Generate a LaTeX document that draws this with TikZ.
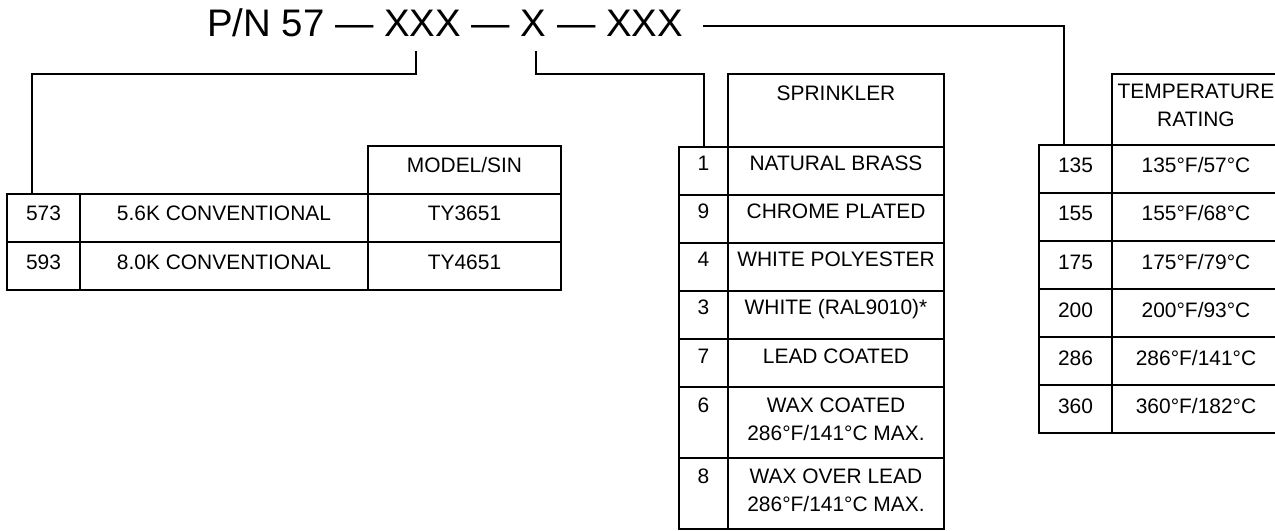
\documentclass[tikz,border=0pt]{standalone}
\usepackage{fontspec}
\setmainfont{Liberation Sans}
\newcommand{\titlefont}{\fontsize{28.8}{34}\selectfont}
\newcommand{\tabfont}{\fontsize{15.7}{21}\selectfont}
\newcommand{\twolines}[2]{\begin{tabular}[t]{@{}c@{}}#1\\#2\end{tabular}}
\begin{document}
\begin{tikzpicture}[x=0.75pt,y=0.75pt,yscale=-1,xscale=1,
  cell/.style={draw, line width=2pt, inner xsep=0pt, inner ysep=0pt, outer sep=0pt, anchor=north west, font=\tabfont},
  lrow/.style={text height=20.25pt, text depth=15.75pt},
  srow/.style={text height=18pt, text depth=18pt},
  stall/.style={text height=18.75pt, text depth=34.5pt},
  trow/.style={text height=21pt, text depth=15pt},
  link/.style={line width=2pt}]
\useasboundingbox (0,0) rectangle (1275,531);
% Part number
\node[anchor=base west, inner sep=0pt, font=\titlefont] (pn) at (207,37) {P/N 57 — XXX — X — XXX};
\coordinate (tapA) at (416,51);
\coordinate (tapB) at (536,51);
\coordinate (tapC) at (703,26);

% Model table
\node[cell, lrow, minimum width=54.75pt] (n573) at (7,194) {573};
\node[cell, lrow, minimum width=216pt] (d573) at (n573.north east) {5.6K CONVENTIONAL};
\node[cell, lrow, minimum width=144.75pt] (m573) at (d573.north east) {TY3651};
\node[cell, lrow, minimum width=144.75pt, anchor=south west] (mhead) at (m573.north west) {MODEL/SIN};
\node[cell, lrow, minimum width=54.75pt] (n593) at (n573.south west) {593};
\node[cell, lrow, minimum width=216pt] (d593) at (n593.north east) {8.0K CONVENTIONAL};
\node[cell, lrow, minimum width=144.75pt] (m593) at (d593.north east) {TY4651};

% Sprinkler table
\node[cell, text height=20.25pt, text depth=34.5pt, minimum width=162pt] (shead) at (728,74) {SPRINKLER};
\node[cell, srow, minimum width=36.75pt, anchor=north east] (s1) at (shead.south west) {1};
\node[cell, srow, minimum width=162pt] (f1) at (s1.north east) {NATURAL BRASS};
\node[cell, srow, minimum width=36.75pt] (s9) at (s1.south west) {9};
\node[cell, srow, minimum width=162pt] (f9) at (s9.north east) {CHROME PLATED};
\node[cell, srow, minimum width=36.75pt] (s4) at (s9.south west) {4};
\node[cell, srow, minimum width=162pt] (f4) at (s4.north east) {WHITE POLYESTER};
\node[cell, srow, minimum width=36.75pt] (s3) at (s4.south west) {3};
\node[cell, srow, minimum width=162pt] (f3) at (s3.north east) {WHITE (RAL9010)*};
\node[cell, srow, minimum width=36.75pt] (s7) at (s3.south west) {7};
\node[cell, srow, minimum width=162pt] (f7) at (s7.north east) {LEAD COATED};
\node[cell, stall, minimum width=36.75pt] (s6) at (s7.south west) {6};
\node[cell, stall, minimum width=162pt] (f6) at (s6.north east) {\twolines{WAX COATED}{286°F/141°C MAX.}};
\node[cell, stall, minimum width=36.75pt] (s8) at (s6.south west) {8};
\node[cell, stall, minimum width=162pt] (f8) at (s8.north east) {\twolines{WAX OVER LEAD}{286°F/141°C MAX.}};

% Temperature table
\node[cell, stall, minimum width=126pt] (thead) at (1112,74) {\twolines{TEMPERATURE}{RATING}};
\node[cell, trow, minimum width=54.75pt, anchor=north east] (r135) at (thead.south west) {135};
\node[cell, trow, minimum width=126pt] (g135) at (r135.north east) {135°F/57°C};
\node[cell, trow, minimum width=54.75pt] (r155) at (r135.south west) {155};
\node[cell, trow, minimum width=126pt] (g155) at (r155.north east) {155°F/68°C};
\node[cell, trow, minimum width=54.75pt] (r175) at (r155.south west) {175};
\node[cell, trow, minimum width=126pt] (g175) at (r175.north east) {175°F/79°C};
\node[cell, trow, minimum width=54.75pt] (r200) at (r175.south west) {200};
\node[cell, trow, minimum width=126pt] (g200) at (r200.north east) {200°F/93°C};
\node[cell, trow, minimum width=54.75pt] (r286) at (r200.south west) {286};
\node[cell, trow, minimum width=126pt] (g286) at (r286.north east) {286°F/141°C};
\node[cell, trow, minimum width=54.75pt] (r360) at (r286.south west) {360};
\node[cell, trow, minimum width=126pt] (g360) at (r360.north east) {360°F/182°C};

% Connectors
\draw[link] (tapA) -- ++(0,23) -| ([xshift=18.75pt]n573.north west);
\draw[link] (tapB) -- ++(0,23) -| ([xshift=18.75pt]s1.north west);
\draw[link] (tapC) -| ([xshift=18.75pt]r135.north west);
\end{tikzpicture}
\end{document}
